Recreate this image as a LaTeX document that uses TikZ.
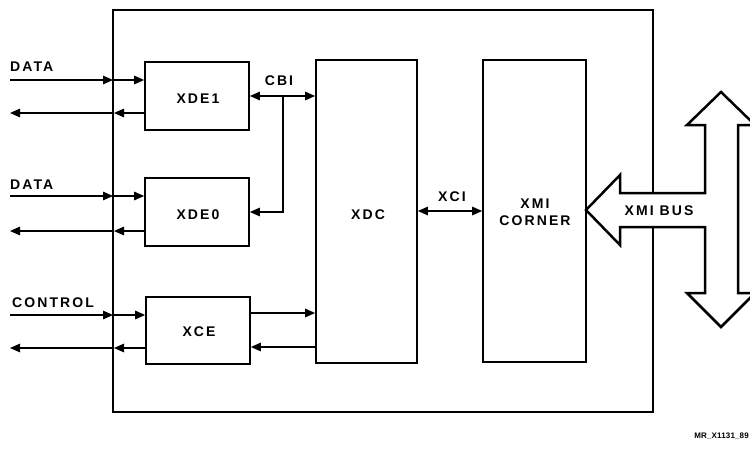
\documentclass[tikz,border=0pt]{standalone}
\usepackage{fontspec}
\newfontfamily\labfont{Liberation Sans}[LetterSpace=15]
\newfontfamily\footfont{Liberation Sans}[LetterSpace=2]
\usetikzlibrary{arrows.meta}
\begin{document}
\begin{tikzpicture}[x=1pt,y=-1pt,
  lab/.style={font=\labfont\bfseries\fontsize{14}{16}\selectfont, inner sep=0pt},
  blk/.style={draw, line width=1.7pt, inner sep=0pt},
  tip/.tip={Triangle[length=10pt,width=8.5pt]},
  conn/.style={line width=1.4pt, -tip},
  bconn/.style={line width=1.4pt, tip-tip},
  line join=miter]
\useasboundingbox (0,0) rectangle (750,448);
\clip (0,0) rectangle (750,448);

% outer box
\node[draw, line width=2.6pt, minimum width=540pt, minimum height=402pt, inner sep=0pt] (outer) at (383,211) {};

% blocks
\node[blk, minimum width=104pt, minimum height=68pt] (xde1) at (197,96) {};
\node[blk, minimum width=104pt, minimum height=68pt] (xde0) at (197,212) {};
\node[blk, minimum width=104pt, minimum height=67pt] (xce) at (198,330.5) {};
\node[blk, minimum width=101pt, minimum height=303pt] (xdc) at (366.5,211.5) {};
\node[blk, minimum width=103pt, minimum height=302pt] (xmi) at (534.5,211) {};

% block labels
\node[lab] (xde1t) at (198,98.5) {XDE1};
\node[lab] (xde0t) at (198,214.5) {XDE0};
\node[lab] (xcet) at (199,332) {XCE};
\node[lab] (xdct) at (368,214.5) {XDC};
\node[lab, align=center, font=\labfont\bfseries\fontsize{14}{17}\selectfont] (xmit) at (535,212.5) {XMI\\CORNER};

% side labels
\node[lab, anchor=west] (d1) at (10,67) {DATA};
\node[lab, anchor=west] (d0) at (10,185) {DATA};
\node[lab, anchor=west] (ctl) at (12,302.5) {CONTROL};
\node[lab] (cbi) at (279,81) {CBI};
\node[lab] (xci) at (452,197) {XCI};

% DATA 1
\coordinate (i1s) at (10,80);  \coordinate (i1m) at (113,80);
\coordinate (o1m) at (114,113); \coordinate (o1e) at (10,113);
\draw[conn] (i1s) -- (i1m);
\draw[conn] (i1m) -- (xde1.west |- i1m);
\draw[conn] (xde1.west |- o1m) -- (o1m);
\draw[conn] (o1m) -- (o1e);

% DATA 0
\coordinate (i0s) at (10,196);  \coordinate (i0m) at (113,196);
\coordinate (o0m) at (114,231); \coordinate (o0e) at (10,231);
\draw[conn] (i0s) -- (i0m);
\draw[conn] (i0m) -- (xde0.west |- i0m);
\draw[conn] (xde0.west |- o0m) -- (o0m);
\draw[conn] (o0m) -- (o0e);

% CONTROL
\coordinate (ics) at (10,315);  \coordinate (icm) at (113,315);
\coordinate (ocm) at (114,348); \coordinate (oce) at (10,348);
\draw[conn] (ics) -- (icm);
\draw[conn] (icm) -- (xce.west |- icm);
\draw[conn] (xce.west |- ocm) -- (ocm);
\draw[conn] (ocm) -- (oce);

% XCE <-> XDC
\coordinate (xa) at (250,313); \coordinate (xb) at (250,347);
\draw[conn] (xce.east |- xa) -- (xdc.west |- xa);
\draw[conn] (xdc.west |- xb) -- (xce.east |- xb);

% CBI
\coordinate (j) at (283,96);
\draw[bconn] (xde1.east) -- (xdc.west |- xde1.east);
\draw[conn] (j) |- (xde0.east);

% XCI
\draw[bconn] (xdc.east |- 0,211) -- (xmi.west |- 0,211);

% XMI bus arrow
\draw[line width=2.5pt, fill=white]
  (586,210) -- (620,175) -- (620,193) -- (705,193) -- (705,125) -- (687,125)
  -- (721,92) -- (755,125) -- (738,125) -- (738,293) -- (755,293) -- (721,327)
  -- (687,293) -- (705,293) -- (705,227) -- (620,227) -- (620,245) -- cycle;
\node[lab] (bus) at (659,211) {XMI BUS};

% footer
\node[anchor=east, inner sep=0pt, font=\footfont\bfseries\fontsize{8}{10}\selectfont] (foot) at (749,436.5) {MR\_X1131\_89};
\end{tikzpicture}
\end{document}
